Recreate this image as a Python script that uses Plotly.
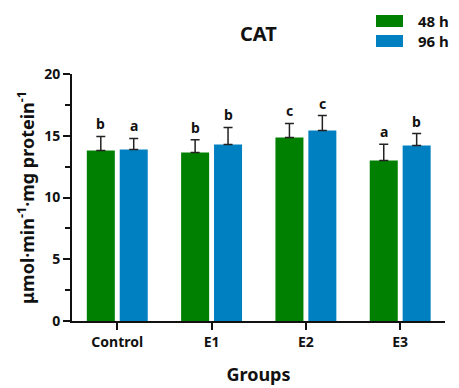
import plotly.graph_objects as go

groups = ["Control", "E1", "E2", "E3"]
mean_48h = [13.81, 13.65, 14.86, 13.00]
err_48h = [1.13, 1.02, 1.14, 1.32]
mean_96h = [13.89, 14.30, 15.43, 14.21]
err_96h = [0.89, 1.37, 1.21, 0.97]
letters_48h = ["b", "b", "c", "a"]
letters_96h = ["a", "b", "c", "b"]
series_names = ["48 h", "96 h"]
colors = ["#008000", "#0080C0"]

FONT = "Noto Sans, sans-serif"
INK = "#111111"

fig = go.Figure()
x_idx = list(range(len(groups)))
W = 0.297
offsets = [-0.323, 0.026]

for name, means, errs, col, off in zip(series_names, [mean_48h, mean_96h], [err_48h, err_96h], colors, offsets):
    fig.add_trace(go.Bar(
        x=x_idx, y=means, name=name, width=W, offset=off,
        marker=dict(color=col, line=dict(width=0)),
        error_y=dict(type="data", array=errs, arrayminus=[0] * len(errs), symmetric=False,
                     color="#222222", thickness=1.5, width=4.5),
        showlegend=False,
    ))

annotations = []
for means, errs, letters, off in zip([mean_48h, mean_96h], [err_48h, err_96h], [letters_48h, letters_96h], offsets):
    for i, (m, e, t) in enumerate(zip(means, errs, letters)):
        annotations.append(dict(
            x=i + off + W / 2, y=m + e, xref="x", yref="y", text=f"<b>{t}</b>",
            showarrow=False, yanchor="bottom", yshift=1,
            font=dict(family=FONT, size=14, color=INK),
        ))

# legend drawn as swatches with labels
shapes = []
for k, (name, col) in enumerate(zip(series_names, colors)):
    shapes.append(dict(type="rect", xref="paper", yref="paper",
                       x0=(376 - 72) / 373, x1=(403 - 72) / 373,
                       y0=(388 - 67 - (27 + 20 * k)) / 247, y1=(388 - 67 - (15 + 20 * k)) / 247,
                       fillcolor=col, line=dict(width=0)))
    annotations.append(dict(xref="paper", yref="paper", x=(416 - 72) / 373,
                            y=(388 - 67 - (21 + 20 * k)) / 247, text=f"<b>{name}</b>",
                            showarrow=False, xanchor="left", yanchor="middle",
                            font=dict(family=FONT, size=15, color=INK)))

annotations.append(dict(xref="paper", yref="paper", x=0.5, y=(388 - 67 - 33) / 247,
                        text="<b>CAT</b>", showarrow=False, xanchor="center", yanchor="middle",
                        font=dict(family=FONT, size=20, color=INK)))

fig.update_layout(
    width=459, height=388,
    margin=dict(l=72, r=14, t=74, b=67),
    plot_bgcolor="white", paper_bgcolor="white",
    barmode="overlay",
    annotations=annotations, shapes=shapes,
    font=dict(family=FONT, color=INK),
    xaxis=dict(
        tickvals=x_idx, ticktext=[f"<b>{g}</b>" for g in groups],
        range=[-0.48, 3.475], showline=True, linecolor=INK, linewidth=2,
        ticks="outside", ticklen=7, tickwidth=2, tickcolor=INK,
        tickfont=dict(family=FONT, size=14, color=INK),
        title=dict(text="<b>Groups</b>", font=dict(family=FONT, size=18, color=INK), standoff=19),
        showgrid=False, zeroline=False, automargin=False,
    ),
    yaxis=dict(
        range=[0, 20], tickvals=[0, 5, 10, 15, 20], showline=True, linecolor=INK, linewidth=2,
        ticks="outside", ticklen=7, tickwidth=2, tickcolor=INK,
        tickfont=dict(family=FONT, size=14, color=INK),
        ticktext=["<b>0</b>", "<b>5</b>", "<b>10</b>", "<b>15</b>", "<b>20</b>"],
        minor=dict(tickvals=[2.5, 7.5, 12.5, 17.5], ticks="outside", ticklen=5, tickwidth=2, tickcolor=INK),
        title=dict(text="<b>μmol·min<sup>-1</sup>·mg protein<sup>-1</sup></b>",
                   font=dict(family=FONT, size=18, color=INK), standoff=5),
        showgrid=False, zeroline=False, automargin=False,
    ),
)

fig.write_html("out.html")
